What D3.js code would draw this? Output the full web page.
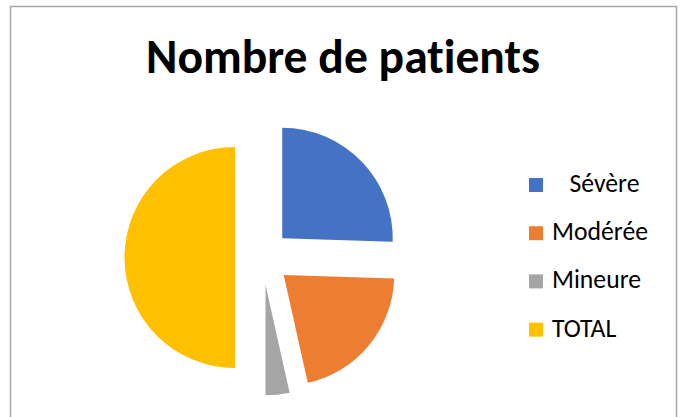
<!DOCTYPE html>
<html>
<head>
<meta charset="utf-8">
<script src="https://cdn.jsdelivr.net/npm/d3@7"></script>
<style>
  body { margin: 0; background: #fff; }
  text { font-family: Calibri, Carlito, Lato, sans-serif; font-variant-ligatures: none; }
</style>
</head>
<body>
<div class="pie-chart"></div>
<script>
const categories = ['   Sévère', 'Modérée', 'Mineure', 'TOTAL'];
const patients = [51, 42, 7, 100];
const colors = ['#4472c4', '#ed7d31', '#a5a5a5', '#ffc000'];
const title = 'Nombre de patients';

const svgwidth = 680;
const svgheight = 417;
const radius = 110.5
const explode = 27.5

const svg = d3.select('.pie-chart').append('svg')
    .attr('width', svgwidth)
    .attr('height', svgheight)

// chart area border (bottom edge runs past the window)
svg.append('rect')
    .attr('x', 10.5)
    .attr('y', 6.5)
    .attr('width', 666)
    .attr('height', 430)
    .attr('fill', 'none')
    .attr('stroke', '#a6a6a6')
    .attr('stroke-width', 1.5)

const titleText = svg.append('text')
    .attr('x', 343)
    .attr('y', 72.5)
    .attr('text-anchor', 'middle')
    .attr('font-weight', 'bold')
    .attr('font-size', 40)
    .text(title)
// fit the title to the width it takes in the picture
let tw = titleText.node().getComputedTextLength();
titleText.attr('font-size', 40 * 394 / tw)

const pie = d3.pie().sort(null).value(d => d)
const arc = d3.arc().innerRadius(0).outerRadius(radius)

const slices = svg.append('g')
    .attr('transform', 'translate(262.5,257.5)')

slices.selectAll('path')
    .data(pie(patients))
    .enter()
    .append('path')
    .attr('d', arc)
    .attr('fill', (d, i) => colors[i])
    .attr('transform', d => {
        const mid = (d.startAngle + d.endAngle) / 2;
        return 'translate(' + (Math.sin(mid) * explode) + ',' + (-Math.cos(mid) * explode) + ')';
    })

const legend = svg.append('g')
    .attr('transform', 'translate(529,0)')

legend.selectAll('rect')
    .data(categories)
    .enter()
    .append('rect')
    .attr('x', 0)
    .attr('y', (d, i) => 178 + i * 48.2)
    .attr('width', 14)
    .attr('height', 14)
    .attr('fill', (d, i) => colors[i])

const labels = legend.selectAll('text')
    .data(categories)
    .enter()
    .append('text')
    .attr('x', 23)
    .attr('y', (d, i) => 192 + i * 48.2)
    .attr('font-size', 22)
    .style('white-space', 'pre')
    .attr('fill', '#000')
    .text(d => d)

// match the legend font to "Modérée" width in the picture
const lw = labels.filter((d, i) => i == 1).node().getComputedTextLength();
labels.attr('font-size', Math.min(26, 22 * 96 / lw))
</script>
</body>
</html>
